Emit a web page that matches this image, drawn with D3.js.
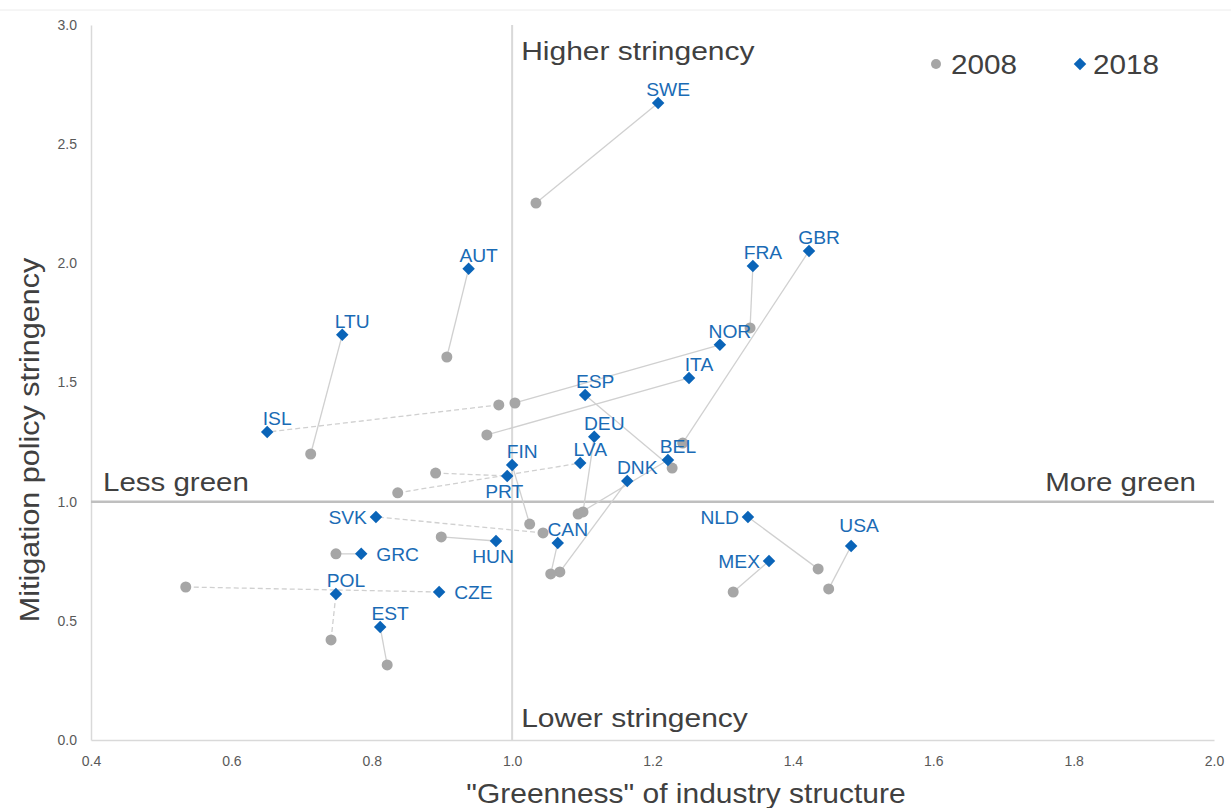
<!DOCTYPE html>
<html><head><meta charset="utf-8">
<script src="https://cdn.jsdelivr.net/npm/d3@7"></script>
<style>
body{margin:0;background:#fff;}
svg text{font-family:"Liberation Sans",Arial,sans-serif;}
</style></head>
<body>
<svg id="chart" width="1231" height="808"></svg>
<script>
const countries = ["SWE","GBR","FRA","AUT","LTU","NOR","ITA","ESP","ISL","DEU","BEL","LVA","FIN","PRT","DNK","SVK","NLD","USA","HUN","CAN","GRC","MEX","POL","CZE","EST"];
const x2018 = [1.208,1.423,1.343,0.938,0.758,1.296,1.252,1.104,0.651,1.117,1.222,1.097,1.000,0.993,1.164,0.806,1.336,1.483,0.977,1.065,0.785,1.366,0.749,0.896,0.812];
const y2018 = [2.673,2.052,1.989,1.977,1.700,1.658,1.519,1.448,1.292,1.272,1.175,1.162,1.154,1.108,1.087,0.936,0.936,0.814,0.835,0.827,0.781,0.751,0.613,0.621,0.474];
const x2008 = [1.034,1.243,1.339,0.907,0.713,1.004,0.964,1.228,0.981,1.101,1.094,0.837,1.025,0.891,1.068,1.044,1.436,1.451,0.899,1.055,0.749,1.315,0.742,0.535,0.822];
const y2008 = [2.253,1.246,1.729,1.607,1.200,1.414,1.280,1.141,1.406,0.957,0.948,1.037,0.906,1.120,0.705,0.869,0.718,0.634,0.852,0.697,0.781,0.621,0.420,0.642,0.315];
const xTicks = [0.4,0.6,0.8,1.0,1.2,1.4,1.6,1.8,2.0];
const yTicks = [0.0,0.5,1.0,1.5,2.0,2.5,3.0];
const years = ["2008","2018"];

// layout-only settings
const labelSide = {SVK:"l",NLD:"l",MEX:"l",GRC:"r",CZE:"r",PRT:"b",HUN:"b",USA:"t2"};
const dashed = new Set(["ISL","SVK","POL","LVA","PRT","CZE"]);

const svg = d3.select("#chart");
const x = d3.scaleLinear().domain([0.4,2.0]).range([91,1214]);
const y = d3.scaleLinear().domain([0,3]).range([740,25]);

// helper: text placed at (tx,ty) with horizontal stretch
function stext(parent, tx, ty, str, size, sx, anchor, fill, rot){
  return parent.append("text")
    .attr("transform",`translate(${tx},${ty})${rot?` rotate(${rot})`:""} scale(${sx},1)`)
    .attr("text-anchor",anchor||"start").attr("fill",fill||"#404040")
    .style("font-size",size+"px").text(str);
}

svg.append("line").attr("x1",0).attr("x2",1231).attr("y1",10).attr("y2",10).attr("stroke","#ececec");

// axes
const xAxis = svg.append("g").attr("transform","translate(0,740)")
  .call(d3.axisBottom(x).tickValues(xTicks).tickFormat(d3.format(".1f")).tickSize(0).tickPadding(16));
const yAxis = svg.append("g").attr("transform","translate(91,0)")
  .call(d3.axisLeft(y).tickValues(yTicks).tickFormat(d3.format(".1f")).tickSize(0).tickPadding(14));
[xAxis,yAxis].forEach(a=>{
  a.select(".domain").attr("stroke","#d9d9d9").attr("stroke-width",1.5);
  a.selectAll("text").attr("fill","#595959").style("font-size","14px").style("font-family","Liberation Sans, Arial, sans-serif");
});

// reference lines
svg.append("line").attr("x1",x(1)).attr("x2",x(1)).attr("y1",y(3)).attr("y2",y(0))
  .attr("stroke","#d9d9d9").attr("stroke-width",2);
svg.append("line").attr("x1",x(0.4)).attr("x2",x(2.0)).attr("y1",y(1)).attr("y2",y(1))
  .attr("stroke","#bfbfbf").attr("stroke-width",2.5);

// quadrant labels
const q = svg.append("g");
stext(q, x(1)+9, y(3)+35, "Higher stringency", 25, 1.2);
stext(q, x(1)+9, y(0)-13, "Lower stringency", 25, 1.2);
stext(q, x(0.4)+12, y(1)-11, "Less green", 25, 1.18);
stext(q, x(2.0)-18, y(1)-11, "More green", 25, 1.18, "end");

// axis titles
stext(svg, 686, 803, "\"Greenness\" of industry structure", 27, 1.11, "middle");
stext(svg, 39, 440, "Mitigation policy stringency", 27, 1.13, "middle", "#404040", -90);

const data = countries.map((c,i)=>({c,x0:x2008[i],y0:y2008[i],x1:x2018[i],y1:y2018[i]}));

// connecting lines
svg.append("g").selectAll("line").data(data).join("line")
  .attr("x1",d=>x(d.x0)).attr("y1",d=>y(d.y0)).attr("x2",d=>x(d.x1)).attr("y2",d=>y(d.y1))
  .attr("stroke","#d0d0d0").attr("stroke-width",1.3)
  .attr("stroke-dasharray",d=>dashed.has(d.c)?"5,3":null);

// 2008 points
svg.append("g").selectAll("circle").data(data).join("circle")
  .attr("cx",d=>x(d.x0)).attr("cy",d=>y(d.y0)).attr("r",5.5).attr("fill","#a6a6a6");

// 2018 points
const diamond = d3.symbol().type(d3.symbolSquare).size(78);
svg.append("g").selectAll("path").data(data).join("path")
  .attr("d",diamond).attr("fill","#0a64b8")
  .attr("transform",d=>`translate(${x(d.x1)},${y(d.y1)}) rotate(45)`);

// labels
const lbl = svg.append("g");
data.forEach(d=>{
  const s = labelSide[d.c]||"t";
  const px=x(d.x1), py=y(d.y1);
  let tx,ty,anc;
  if(s==="t"){tx=px+10;ty=py-7;anc="middle";}
  else if(s==="t2"){tx=px+8;ty=py-14;anc="middle";}
  else if(s==="l"){tx=px-9;ty=py+7;anc="end";}
  else if(s==="r"){tx=px+15;ty=py+7;anc="start";}
  else {tx=px-3;ty=py+22;anc="middle";}
  stext(lbl, tx, ty, d.c, 17.5, 1.1, anc, "#1a6bb5");
});

// legend
const lg = svg.append("g");
lg.append("circle").attr("cx",936).attr("cy",64).attr("r",5).attr("fill","#a6a6a6");
stext(lg, 951, 74, years[0], 27, 1.1);
lg.append("path").attr("d",diamond).attr("fill","#0a64b8").attr("transform","translate(1080,64) rotate(45)");
stext(lg, 1093, 74, years[1], 27, 1.1);
</script>
</body></html>
